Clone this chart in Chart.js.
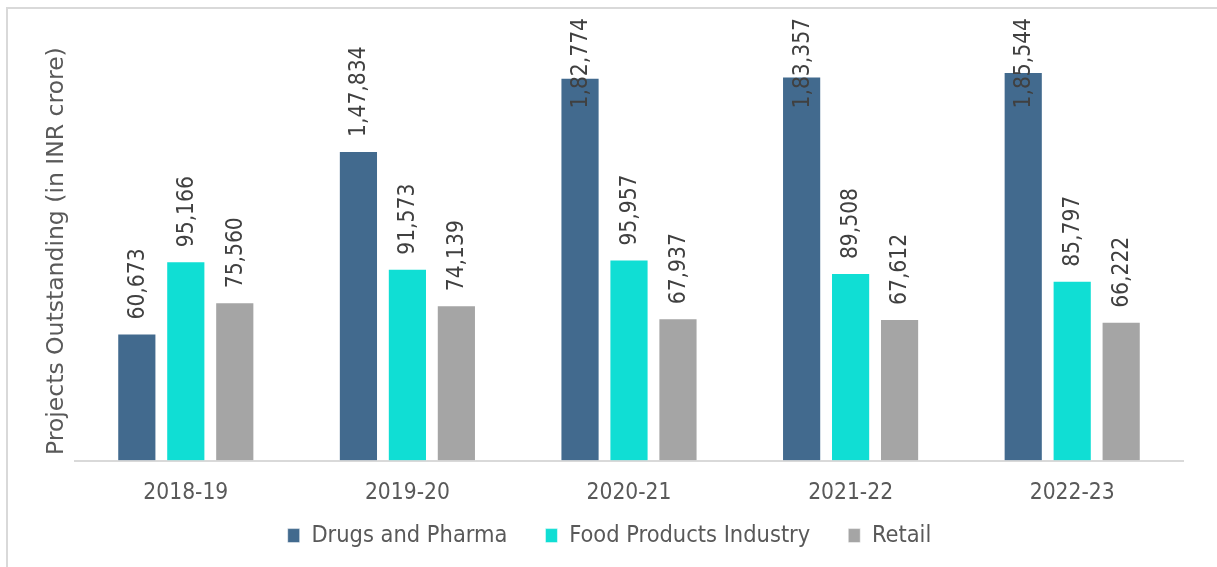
<!DOCTYPE html>
<html lang="en">
<head>
    <meta charset="UTF-8">
    <title>Projects Outstanding</title>
    <script src="https://cdn.jsdelivr.net/npm/chart.js@4"></script>
    <style>
        html, body { margin: 0; overflow: hidden; background: #fff; }
        .wrap { position: relative; width: 1217px; height: 567px; overflow: hidden; }
        .frame { position: absolute; left: 6px; top: 7px; width: 1400px; height: 800px; border: 2px solid #d9d9d9; }
        #chart { position: absolute; left: 0; top: 0; }
    </style>
</head>
<body>
    <div class="wrap">
        <div class="frame"></div>
        <canvas id="chart" width="1217" height="567"></canvas>
    </div>

    <script>
        const years = ['2018-19', '2019-20', '2020-21', '2021-22', '2022-23'];
        const drugsPharma = [60673, 147834, 182774, 183357, 185544];
        const foodProducts = [95166, 91573, 95957, 89508, 85797];
        const retail = [75560, 74139, 67937, 67612, 66222];

        const fontFamily = '"DejaVu Sans Condensed", "DejaVu Sans", sans-serif';
        Chart.defaults.font.family = fontFamily;
        Chart.defaults.font.size = 22.6;

        // indian grouping: 1,82,774
        function formatINR(n) {
            const s = String(n);
            if (s.length <= 3) return s;
            const last3 = s.slice(-3);
            const rest = s.slice(0, -3).replace(/\B(?=(\d{2})+(?!\d))/g, ',');
            return rest + ',' + last3;
        }

        // vertical value labels above each bar, pushed down when they hit the top
        const valueLabels = {
            id: 'valueLabels',
            afterDatasetsDraw(chart) {
                const ctx = chart.ctx;
                ctx.save();
                ctx.font = '22.6px ' + fontFamily;
                ctx.fillStyle = '#404040';
                ctx.textAlign = 'left';
                ctx.textBaseline = 'middle';
                chart.data.datasets.forEach((ds, i) => {
                    chart.getDatasetMeta(i).data.forEach((bar, j) => {
                        const text = formatINR(ds.data[j]);
                        const w = ctx.measureText(text).width;
                        let y = bar.y - 14;
                        if (y - w < 18) y = 18 + w;
                        ctx.save();
                        ctx.translate(bar.x + 1, y);
                        ctx.rotate(-Math.PI / 2);
                        ctx.fillText(text, 0, 0);
                        ctx.restore();
                    });
                });
                ctx.restore();
            }
        };

        new Chart(document.getElementById('chart'), {
            type: 'bar',
            data: {
                labels: years,
                datasets: [
                    { label: 'Drugs and Pharma', data: drugsPharma, backgroundColor: '#426A8E' },
                    { label: 'Food Products Industry', data: foodProducts, backgroundColor: '#10DED4' },
                    { label: 'Retail', data: retail, backgroundColor: '#A5A5A5' }
                ]
            },
            options: {
                responsive: false,
                animation: false,
                categoryPercentage: 0.663,
                barPercentage: 0.8,
                borderWidth: 1,
                borderColor: 'rgba(255,255,255,0.5)',
                layout: { padding: { left: 36, right: 34, top: 41.6, bottom: 9.7 } },
                scales: {
                    x: {
                        grid: { display: false, drawTicks: false },
                        border: { color: '#d9d9d9', width: 2 },
                        ticks: { color: '#595959', padding: 19 },
                        afterFit(scale) { scale.height = 45.3; }
                    },
                    y: {
                        min: 0,
                        max: 200000,
                        grid: { display: false },
                        border: { display: false },
                        ticks: { display: false },
                        title: {
                            display: true,
                            text: 'Projects Outstanding (in INR crore)',
                            color: '#595959',
                            font: { family: '"DejaVu Sans", sans-serif', size: 23.5 },
                            padding: { top: 7, bottom: 0 }
                        },
                        afterFit(scale) { scale.width = 39; }
                    }
                },
                plugins: {
                    legend: {
                        position: 'bottom',
                        labels: {
                            color: '#595959',
                            font: { size: 23.4 },
                            boxWidth: 12,
                            boxHeight: 14,
                            padding: 18,
                            // wider spacing between entries than the padding alone gives
                            generateLabels(chart) {
                                const items = Chart.defaults.plugins.legend.labels.generateLabels(chart);
                                items.forEach((it, i) => {
                                    if (i < items.length - 1) it.text += '   ';
                                });
                                return items;
                            }
                        }
                    },
                    tooltip: { enabled: false }
                }
            },
            plugins: [valueLabels]
        });
    </script>
</body>
</html>
